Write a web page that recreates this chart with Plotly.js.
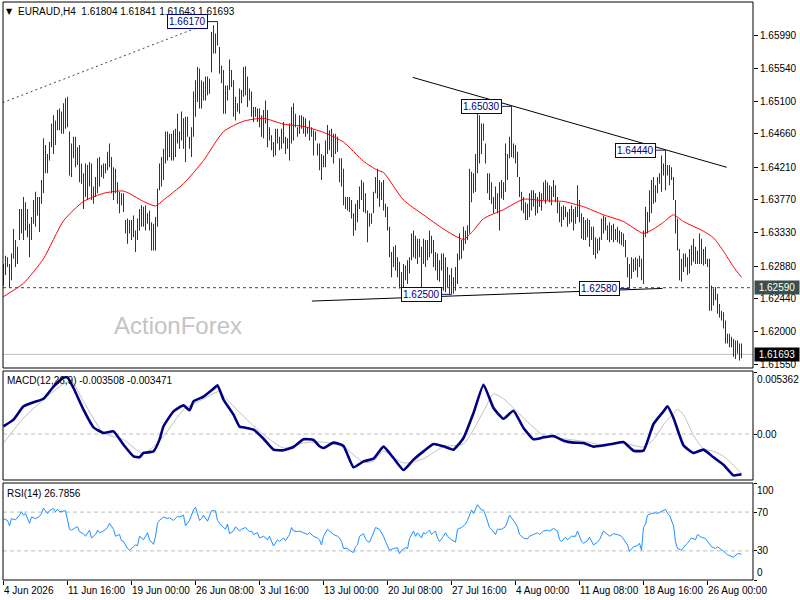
<!DOCTYPE html>
<html><head><meta charset="utf-8">
<script src="https://cdn.plot.ly/plotly-3.0.1.min.js"></script>
<style>html,body{margin:0;padding:0;background:#fff;}#chart{width:800px;height:600px;}</style>
</head><body><div id="chart"></div>
<script>
// ---------- data ----------
const symbolText = 'EURAUD,H4';
const lastOHLC = ['1.61804', '1.61841', '1.61643', '1.61693'];

const highs = [
1.6291,1.6302,1.6300,1.6291,1.6305,1.6338,1.6323,1.6314,1.6365,1.6365,
1.6381,1.6374,1.6365,1.6345,1.6354,1.6377,1.6388,1.6381,1.6381,1.6404,
1.6460,1.6451,1.6439,1.6455,1.6480,1.6491,1.6484,1.6498,1.6500,1.6496,
1.6507,1.6514,1.6516,1.6469,1.6453,1.6462,1.6462,1.6448,1.6451,1.6426,
1.6413,1.6426,1.6424,1.6428,1.6426,1.6395,1.6408,1.6433,1.6435,1.6424,
1.6426,1.6426,1.6442,1.6453,1.6435,1.6421,1.6419,1.6401,1.6388,1.6386,
1.6386,1.6350,1.6352,1.6350,1.6350,1.6356,1.6336,1.6352,1.6365,1.6370,
1.6368,1.6370,1.6359,1.6363,1.6347,1.6345,1.6354,1.6392,1.6426,1.6435,
1.6446,1.6469,1.6469,1.6466,1.6466,1.6471,1.6473,1.6493,1.6469,1.6496,
1.6487,1.6489,1.6489,1.6462,1.6475,1.6523,1.6538,1.6556,1.6554,1.6538,
1.6536,1.6543,1.6543,1.6540,1.6603,1.6612,1.6601,1.6617,1.6583,1.6558,
1.6552,1.6531,1.6531,1.6566,1.6552,1.6538,1.6516,1.6507,1.6527,1.6525,
1.6556,1.6557,1.6543,1.6527,1.6523,1.6502,1.6502,1.6500,1.6500,1.6491,
1.6498,1.6511,1.6498,1.6475,1.6464,1.6455,1.6473,1.6473,1.6462,1.6473,
1.6482,1.6462,1.6460,1.6480,1.6502,1.6507,1.6493,1.6475,1.6491,1.6491,
1.6489,1.6487,1.6475,1.6484,1.6475,1.6471,1.6469,1.6453,1.6453,1.6439,
1.6437,1.6457,1.6478,1.6471,1.6473,1.6466,1.6466,1.6462,1.6433,1.6433,
1.6419,1.6381,1.6381,1.6381,1.6377,1.6359,1.6372,1.6377,1.6395,1.6404,
1.6401,1.6386,1.6363,1.6359,1.6359,1.6388,1.6408,1.6419,1.6404,1.6401,
1.6404,1.6372,1.6368,1.6341,1.6307,1.6314,1.6316,1.6300,1.6294,1.6280,
1.6291,1.6289,1.6296,1.6300,1.6332,1.6336,1.6329,1.6325,1.6325,1.6314,
1.6325,1.6323,1.6323,1.6336,1.6329,1.6323,1.6307,1.6305,1.6296,1.6305,
1.6305,1.6300,1.6287,1.6276,1.6285,1.6273,1.6287,1.6305,1.6332,1.6323,
1.6341,1.6336,1.6343,1.6419,1.6415,1.6413,1.6439,1.6493,1.6491,1.6480,
1.6480,1.6453,1.6413,1.6413,1.6401,1.6381,1.6395,1.6386,1.6401,1.6404,
1.6401,1.6453,1.6439,1.6462,1.6503,1.6453,1.6451,1.6442,1.6408,1.6388,
1.6381,1.6374,1.6372,1.6386,1.6390,1.6390,1.6386,1.6381,1.6388,1.6386,
1.6401,1.6404,1.6401,1.6397,1.6395,1.6404,1.6397,1.6381,1.6374,1.6368,
1.6370,1.6368,1.6361,1.6365,1.6370,1.6365,1.6368,1.6397,1.6377,1.6359,
1.6354,1.6350,1.6352,1.6350,1.6341,1.6341,1.6327,1.6325,1.6327,1.6352,
1.6356,1.6354,1.6343,1.6347,1.6343,1.6345,1.6338,1.6341,1.6336,1.6334,
1.6332,1.6323,1.6300,1.6291,1.6300,1.6298,1.6300,1.6298,1.6302,1.6298,
1.6336,1.6368,1.6361,1.6390,1.6404,1.6408,1.6397,1.6408,1.6413,1.6437,
1.6426,1.6444,1.6424,1.6424,1.6421,1.6408,1.6377,1.6352,1.6311,1.6298,
1.6305,1.6305,1.6300,1.6311,1.6316,1.6325,1.6314,1.6309,1.6332,1.6325,
1.6311,1.6314,1.6298,1.6298,1.6262,1.6258,1.6260,1.6251,1.6237,1.6228,
1.6226,1.6215,1.6197,1.6197,1.6193,1.6190,1.6188,1.6188,1.6184,1.6184];

const lows = [
1.6262,1.6276,1.6287,1.6259,1.6269,1.6298,1.6287,1.6291,1.6323,1.6332,
1.6323,1.6336,1.6327,1.6300,1.6323,1.6345,1.6341,1.6356,1.6334,1.6372,
1.6386,1.6413,1.6413,1.6430,1.6448,1.6439,1.6451,1.6471,1.6471,1.6466,
1.6466,1.6473,1.6475,1.6410,1.6408,1.6433,1.6421,1.6424,1.6401,1.6399,
1.6365,1.6381,1.6377,1.6395,1.6377,1.6372,1.6381,1.6386,1.6395,1.6408,
1.6406,1.6413,1.6417,1.6421,1.6386,1.6377,1.6386,1.6372,1.6359,1.6370,
1.6361,1.6332,1.6318,1.6332,1.6323,1.6327,1.6307,1.6323,1.6336,1.6341,
1.6341,1.6336,1.6345,1.6336,1.6309,1.6309,1.6309,1.6341,1.6390,1.6395,
1.6404,1.6426,1.6430,1.6435,1.6430,1.6430,1.6435,1.6453,1.6446,1.6457,
1.6446,1.6428,1.6462,1.6446,1.6435,1.6462,1.6489,1.6509,1.6500,1.6500,
1.6511,1.6511,1.6518,1.6520,1.6549,1.6574,1.6574,1.6585,1.6547,1.6534,
1.6493,1.6493,1.6511,1.6525,1.6529,1.6489,1.6484,1.6496,1.6493,1.6507,
1.6516,1.6518,1.6502,1.6511,1.6489,1.6482,1.6489,1.6482,1.6475,1.6462,
1.6460,1.6480,1.6448,1.6457,1.6444,1.6435,1.6437,1.6453,1.6444,1.6446,
1.6453,1.6439,1.6446,1.6430,1.6453,1.6457,1.6475,1.6462,1.6466,1.6473,
1.6466,1.6462,1.6466,1.6457,1.6462,1.6437,1.6457,1.6437,1.6417,1.6404,
1.6421,1.6421,1.6439,1.6444,1.6435,1.6426,1.6439,1.6442,1.6401,1.6395,
1.6370,1.6365,1.6363,1.6361,1.6352,1.6329,1.6336,1.6347,1.6365,1.6377,
1.6361,1.6359,1.6320,1.6341,1.6345,1.6359,1.6386,1.6379,1.6368,1.6377,
1.6363,1.6354,1.6336,1.6300,1.6273,1.6287,1.6282,1.6273,1.6258,1.6260,
1.6260,1.6269,1.6264,1.6278,1.6296,1.6300,1.6298,1.6291,1.6300,1.6260,
1.6291,1.6287,1.6296,1.6300,1.6305,1.6287,1.6282,1.6269,1.6267,1.6282,
1.6255,1.6253,1.6260,1.6251,1.6250,1.6251,1.6255,1.6264,1.6296,1.6298,
1.6309,1.6318,1.6323,1.6332,1.6374,1.6386,1.6388,1.6413,1.6426,1.6439,
1.6457,1.6426,1.6386,1.6377,1.6372,1.6359,1.6365,1.6359,1.6336,1.6379,
1.6377,1.6388,1.6404,1.6433,1.6435,1.6433,1.6426,1.6408,1.6381,1.6363,
1.6359,1.6350,1.6350,1.6354,1.6363,1.6368,1.6356,1.6359,1.6368,1.6363,
1.6377,1.6372,1.6377,1.6374,1.6370,1.6381,1.6374,1.6359,1.6347,1.6341,
1.6350,1.6354,1.6341,1.6345,1.6347,1.6336,1.6345,1.6354,1.6347,1.6325,
1.6323,1.6323,1.6327,1.6314,1.6323,1.6303,1.6298,1.6305,1.6309,1.6323,
1.6332,1.6336,1.6323,1.6320,1.6323,1.6320,1.6323,1.6320,1.6318,1.6316,
1.6314,1.6300,1.6273,1.6258,1.6271,1.6280,1.6282,1.6273,1.6287,1.6269,
1.6264,1.6327,1.6332,1.6347,1.6359,1.6372,1.6374,1.6386,1.6399,1.6388,
1.6410,1.6390,1.6410,1.6397,1.6404,1.6377,1.6332,1.6309,1.6269,1.6267,
1.6280,1.6287,1.6276,1.6278,1.6289,1.6294,1.6291,1.6291,1.6291,1.6291,
1.6289,1.6291,1.6287,1.6228,1.6228,1.6235,1.6242,1.6224,1.6219,1.6215,
1.6204,1.6184,1.6184,1.6179,1.6179,1.6166,1.6163,1.6170,1.6161,1.6164];

// moving average (red)
const maIdx = [0,10,20,30,40,50,60,70,76,80,90,100,110,120,130,140,150,160,170,180,187,190,200,210,220,230,235,240,250,260,270,280,290,300,310,320,325,330,335,340,350,355,360,365,369];
const maVal = [1.6247,1.6265,1.6298,1.6349,1.6375,1.6386,1.6389,1.6375,1.6369,1.6377,1.6399,1.6430,1.6469,1.6483,1.6487,1.6479,1.6476,1.6468,1.6455,1.6429,1.6417,1.6414,1.6377,1.6357,1.6338,1.6324,1.6336,1.6352,1.6364,1.6378,1.6376,1.6375,1.6368,1.6357,1.6348,1.6332,1.6338,1.6347,1.6357,1.6348,1.6335,1.6326,1.6308,1.6287,1.6273];

// MACD(12,26,9) main line and signal
const macdIdx = [0,5,10,15,20,25,30,32,35,40,45,50,55,60,65,68,70,75,78,80,85,90,93,95,100,105,107,110,115,118,120,125,130,135,140,145,150,155,158,160,165,170,175,180,185,190,195,200,205,210,215,220,225,230,235,240,245,250,255,260,265,270,275,280,285,290,295,300,305,310,315,320,325,330,332,335,340,345,350,355,360,365,369];
const macdVal = [0.00067,0.00125,0.00241,0.00276,0.00307,0.00412,0.00490,0.00493,0.00400,0.00212,0.00058,0.00009,0.00023,-0.00093,-0.00194,-0.00203,-0.00165,-0.00151,-0.00049,0.00067,0.00197,0.00249,0.00206,0.00284,0.00325,0.00394,0.00423,0.00299,0.00168,0.00064,0.00058,0.00038,-0.00041,-0.00136,-0.00142,-0.00113,-0.00046,-0.00052,-0.00107,-0.00122,-0.00075,-0.00104,-0.00290,-0.00238,-0.00215,-0.00110,-0.00209,-0.00313,-0.00223,-0.00151,-0.00087,-0.00107,-0.00136,-0.00035,0.00183,0.00429,0.00226,0.00133,0.00203,0.00052,-0.00046,-0.00029,-0.00017,-0.00058,-0.00075,-0.00078,-0.00110,-0.00099,-0.00084,-0.00070,-0.00145,-0.00145,0.00087,0.00197,0.00241,0.00139,-0.00099,-0.00165,-0.00136,-0.00203,-0.00267,-0.00360,-0.00351];
const sigIdx = [0,10,20,30,34,40,50,60,70,80,90,100,108,110,120,130,140,150,160,170,180,185,190,200,210,220,230,240,245,250,260,270,280,290,300,310,320,325,330,335,337,340,345,350,355,360,365,369];
const sigVal = [-0.00078,0.00139,0.00299,0.00435,0.00458,0.00284,0.00009,-0.00049,-0.00171,-0.00020,0.00212,0.00305,0.00371,0.00331,0.00154,-0.00006,-0.00122,-0.00078,-0.00070,-0.00113,-0.00246,-0.00238,-0.00151,-0.00252,-0.00215,-0.00110,-0.00087,0.00197,0.00348,0.00307,0.00139,-0.00012,-0.00041,-0.00064,-0.00096,-0.00081,-0.00113,-0.00049,0.00081,0.00183,0.00212,0.00168,-0.00012,-0.00128,-0.00151,-0.00194,-0.00273,-0.00342];
const macdHeader = ['-0.003508', '-0.003471'];
const macdScale = [0.005362, 0, -0.004034];

// RSI(14)
const rsiIdx = [0,2,3,4,6,8,9,10,11,13,14,16,18,19,20,22,23,25,26,27,28,30,31,33,34,36,37,38,40,41,43,44,46,47,48,50,52,53,55,56,58,59,60,62,63,65,66,67,68,70,72,73,75,76,77,78,80,82,83,85,87,88,90,91,93,94,95,96,98,99,100,102,103,104,106,107,108,110,111,112,113,115,116,118,119,121,123,124,125,127,128,130,132,133,134,135,137,138,140,141,143,144,145,147,148,150,152,153,155,157,158,159,160,162,163,165,167,168,169,170,172,173,175,176,177,178,180,181,182,183,185,186,188,190,191,193,195,197,198,199,201,202,203,205,206,207,209,210,211,213,214,216,217,218,220,221,222,224,226,227,229,231,232,234,235,236,237,239,240,241,243,244,246,247,249,251,252,253,255,257,258,260,262,263,265,267,268,270,272,273,275,277,278,279,281,282,284,286,287,289,290,292,293,295,297,298,300,302,303,305,307,309,311,312,313,315,317,318,319,320,321,322,324,326,327,329,331,332,333,335,336,337,339,341,342,344,346,347,349,351,352,354,356,357,360,362,363,365,367,369];
const rsiVal = [63.2,61.4,55.9,63.2,62.1,66.8,70.4,66.8,68.6,58.5,65.0,63.2,65.7,68.6,74.0,68.6,71.4,74.0,70.4,72.9,70.4,71.4,71.4,52.3,51.3,54.1,54.9,49.8,47.7,45.1,51.3,43.3,46.9,51.3,48.7,50.5,54.1,58.5,52.3,45.1,46.9,40.5,39.7,32.5,30.7,34.3,36.1,35.4,45.1,41.5,48.7,41.5,36.8,45.1,58.5,61.4,65.0,63.2,64.2,61.4,65.7,65.0,66.8,55.9,61.4,66.8,72.2,75.0,61.4,63.2,66.8,60.6,65.7,71.4,71.4,61.4,58.5,54.9,52.3,57.7,47.7,50.5,54.9,50.5,52.3,54.1,49.8,50.5,46.9,48.7,43.3,45.1,41.5,45.1,39.7,35.0,41.5,39.7,43.3,40.5,46.9,54.1,50.5,49.8,50.5,48.7,46.9,48.7,45.1,43.3,41.5,36.1,45.1,52.3,50.5,46.9,45.1,43.3,39.7,32.5,32.5,30.7,28.2,34.3,36.1,45.1,47.7,42.6,39.7,39.0,48.7,54.1,52.3,45.1,39.7,30.7,32.5,33.2,27.1,30.7,33.2,32.5,42.6,50.5,45.1,48.7,43.3,48.7,47.7,51.3,46.9,50.5,43.3,39.7,45.1,48.7,45.1,41.5,39.0,52.3,54.1,57.7,61.4,72.2,68.6,72.9,77.6,72.2,72.2,66.8,54.1,52.3,46.9,52.3,52.3,54.9,60.6,66.8,61.4,54.9,46.9,43.3,42.3,45.1,46.9,48.7,46.9,50.5,51.3,50.5,53.1,50.5,41.5,39.7,44.1,41.5,45.1,45.1,50.5,39.7,37.9,40.5,44.1,36.1,39.0,41.5,50.5,46.9,45.1,47.7,46.9,45.1,39.7,36.1,29.6,34.3,35.4,37.9,30.7,54.1,57.7,66.8,68.6,69.3,68.6,70.4,72.9,68.6,66.8,55.9,39.7,32.5,30.7,36.1,37.9,43.3,41.5,46.9,44.1,42.6,39.7,34.3,32.5,34.3,29.6,26.0,25.3,23.5,27.1,26.8];
const rsiHeader = '26.7856';
const rsiScale = [100, 70, 30, 0];

// price axis ticks and time labels
const priceTicks = [1.65990,1.65540,1.65100,1.64660,1.64210,1.63770,1.63330,1.62880,1.62440,1.62000,1.61550];
const timeTickIdx = [0,32,64,96,128,160,192,224,256,288,320,352];
const timeTickText = ['4 Jun 2026','11 Jun 16:00','19 Jun 00:00','26 Jun 08:00','3 Jul 16:00','13 Jul 00:00','20 Jul 08:00','27 Jul 16:00','4 Aug 00:00','11 Aug 08:00','18 Aug 16:00','26 Aug 00:00'];

// marked highs / lows
const markIdx = [107, 254, 331, 313, 224];
const markPrice = [1.6617, 1.6503, 1.6444, 1.6258, 1.6250];
const markText = ['1.66170','1.65030','1.64440','1.62580','1.62500'];

// trend lines (bar index, price)
const trendDotIdx = [-0.4, 100.8];   const trendDotPrice = [1.6508, 1.6613];
const trendUpIdx = [204.6, 361.6];   const trendUpPrice = [1.6542, 1.6421];
const trendLowIdx = [154.2, 329.5];  const trendLowPrice = [1.6241, 1.6258];
const levelPrice = 1.62590;
const lastPrice = 1.61693;

// ---------- layout helpers ----------
const FONT = 'Liberation Sans, Arial, sans-serif';
const W = 800, H = 600, ML = 3, MR = 47, MT = 2, MB = 20;
const pw = W - ML - MR, ph = H - MT - MB;
const px = x => (x - ML) / pw;
const py = y => (H - MB - y) / ph;
const mainDom = [py(368), 1];
const macdDom = [py(480), py(371)];
const rsiDom = [0, py(483)];

const barIdx = highs.map((_, i) => i);

const traces = [
  {type:'bar', x: barIdx, y: highs.map((h, i) => h - lows[i]), base: lows, width: 0.5,
   marker:{color:'#1b3a50', line:{width:0}}, xaxis:'x', yaxis:'y', hoverinfo:'skip'},
  {type:'scatter', mode:'lines', x: maIdx, y: maVal, xaxis:'x', yaxis:'y',
   line:{color:'#ff0000', width:1, shape:'spline', smoothing:0.6}},
  {type:'scatter', mode:'lines', x: trendDotIdx, y: trendDotPrice, xaxis:'x', yaxis:'y',
   line:{color:'#2f4f4f', width:1, dash:'2px,3px'}},
  {type:'scatter', mode:'lines', x: trendUpIdx, y: trendUpPrice, xaxis:'x', yaxis:'y',
   line:{color:'#000000', width:1}},
  {type:'scatter', mode:'lines', x: trendLowIdx, y: trendLowPrice, xaxis:'x', yaxis:'y',
   line:{color:'#000000', width:1}},
  {type:'scatter', mode:'lines', x: sigIdx, y: sigVal, xaxis:'x', yaxis:'y2',
   line:{color:'#c0c0c0', width:1, shape:'spline', smoothing:0.6}},
  {type:'scatter', mode:'lines', x: macdIdx, y: macdVal, xaxis:'x', yaxis:'y2',
   line:{color:'#000080', width:2.6, shape:'spline', smoothing:0.4}},
  {type:'scatter', mode:'lines', x: rsiIdx, y: rsiVal, xaxis:'x', yaxis:'y3',
   line:{color:'#1e90ff', width:1}}
];

const border = (d) => ({type:'rect', xref:'paper', yref:'paper', x0:0, x1:1, y0:d[0], y1:d[1],
  line:{color:'#000', width:1}, fillcolor:'rgba(0,0,0,0)', layer:'above'});

const shapes = [
  {type:'line', xref:'paper', yref:'y', x0:0, x1:1, y0:levelPrice, y1:levelPrice,
   line:{color:'#2f4f4f', width:1, dash:'3px,3px'}, layer:'below'},
  {type:'line', xref:'paper', yref:'y', x0:0, x1:1, y0:lastPrice, y1:lastPrice,
   line:{color:'#c0c0c0', width:1}, layer:'below'},
  {type:'line', xref:'paper', yref:'y2', x0:0, x1:1, y0:0, y1:0,
   line:{color:'#bdbdbd', width:1, dash:'4px,3px'}, layer:'below'},
  {type:'line', xref:'paper', yref:'y3', x0:0, x1:1, y0:70, y1:70,
   line:{color:'#bdbdbd', width:1, dash:'4px,3px'}, layer:'below'},
  {type:'line', xref:'paper', yref:'y3', x0:0, x1:1, y0:30, y1:30,
   line:{color:'#bdbdbd', width:1, dash:'4px,3px'}, layer:'below'},
  border(mainDom), border(macdDom), border(rsiDom)
];

const txt = (t, x, y, opts) => Object.assign({text:t, xref:'paper', yref:'paper', x:px(x), y:py(y),
  xanchor:'left', yanchor:'middle', showarrow:false, font:{family:FONT, size:10, color:'#000'}}, opts || {});

const annotations = [
  txt('▼', 4, 11, {font:{family:'DejaVu Sans', size:8, color:'#000'}}),
  txt(symbolText + '&nbsp;&nbsp;' + lastOHLC.join(' '), 16, 11),
  txt('MACD(12,26,9) ' + macdHeader.join(' '), 5, 380),
  txt('RSI(14) ' + rsiHeader, 5, 493),
  txt('ActionForex', 178, 325, {xanchor:'center', font:{family:FONT, size:24, color:'#c4c4c4'}})
];

timeTickIdx.forEach((t, k) => annotations.push({text: timeTickText[k], xref:'x', yref:'paper',
  x: t, y: py(590), xanchor:'left', yanchor:'middle', xshift:-2, showarrow:false,
  font:{family:FONT, size:10, color:'#000'}}));

markIdx.forEach((m, k) => annotations.push({text: markText[k], xref:'x', yref:'y',
  x: m, y: markPrice[k], showarrow:true, arrowhead:0, arrowwidth:1, arrowcolor:'#1a1a60',
  ax:-10, ay:0, xanchor:'right', yanchor:'middle', standoff:0, startstandoff:0,
  bordercolor:'#000080', borderwidth:1, borderpad:1, bgcolor:'#ffffff',
  font:{family:FONT, size:10, color:'#000080'}}));

annotations.push({text: levelPrice.toFixed(5), xref:'paper', yref:'y', x:1, y:levelPrice,
  xanchor:'left', yanchor:'middle', xshift:1, showarrow:false, bgcolor:'#3b4f4c', borderpad:1, width:42,
  font:{family:FONT, size:10, color:'#ffffff'}});
annotations.push({text: lastPrice.toFixed(5), xref:'paper', yref:'y', x:1, y:lastPrice,
  xanchor:'left', yanchor:'middle', xshift:1, showarrow:false, bgcolor:'#000000', borderpad:1, width:42,
  font:{family:FONT, size:10, color:'#ffffff'}});

const macdAnch = ['top', 'middle', 'bottom'];
macdScale.forEach((v, k) => annotations.push({text: v === 0 ? '0.00' : v.toFixed(6), xref:'paper', yref:'y2',
  x:1, y:v, xanchor:'left', yanchor: macdAnch[k], xshift:2, showarrow:false,
  font:{family:FONT, size:10, color:'#000'}}));
const rsiAnch = ['top', 'middle', 'middle', 'bottom'];
rsiScale.forEach((v, k) => annotations.push({text: String(v), xref:'paper', yref:'y3',
  x:1, y:v, xanchor:'left', yanchor: rsiAnch[k], xshift:2, showarrow:false,
  font:{family:FONT, size:10, color:'#000'}}));

const layout = {
  width: W, height: H, margin:{l:ML, r:MR, t:MT, b:MB, pad:0},
  paper_bgcolor:'#ffffff', plot_bgcolor:'#ffffff', showlegend:false, hovermode:false,
  font:{family:FONT, size:10, color:'#000'},
  xaxis:{range:[-0.25, 374.75], anchor:'y3', showgrid:false, zeroline:false, showline:false,
    ticks:'outside', ticklen:4, tickcolor:'#000', tickvals: timeTickIdx, showticklabels:false, fixedrange:true},
  yaxis:{domain: mainDom, range:[1.615094, 1.664340], side:'right', anchor:'x', showgrid:false, zeroline:false,
    ticks:'outside', ticklen:4, tickcolor:'#000', tickvals: priceTicks, ticktext: priceTicks.map(v => v.toFixed(5)),
    tickfont:{family:FONT, size:10, color:'#000'}, fixedrange:true},
  yaxis2:{domain: macdDom, range:[-0.004002, 0.005481], side:'right', anchor:'x', showgrid:false, zeroline:false,
    ticks:'outside', ticklen:3, tickcolor:'#000', tickvals: macdScale, showticklabels:false, fixedrange:true},
  yaxis3:{domain: rsiDom, range:[0, 100], side:'right', anchor:'x', showgrid:false, zeroline:false,
    ticks:'outside', ticklen:3, tickcolor:'#000', tickvals: rsiScale, showticklabels:false, fixedrange:true},
  shapes: shapes, annotations: annotations
};

Plotly.newPlot('chart', traces, layout, {staticPlot:true, displayModeBar:false});
</script>
</body></html>
